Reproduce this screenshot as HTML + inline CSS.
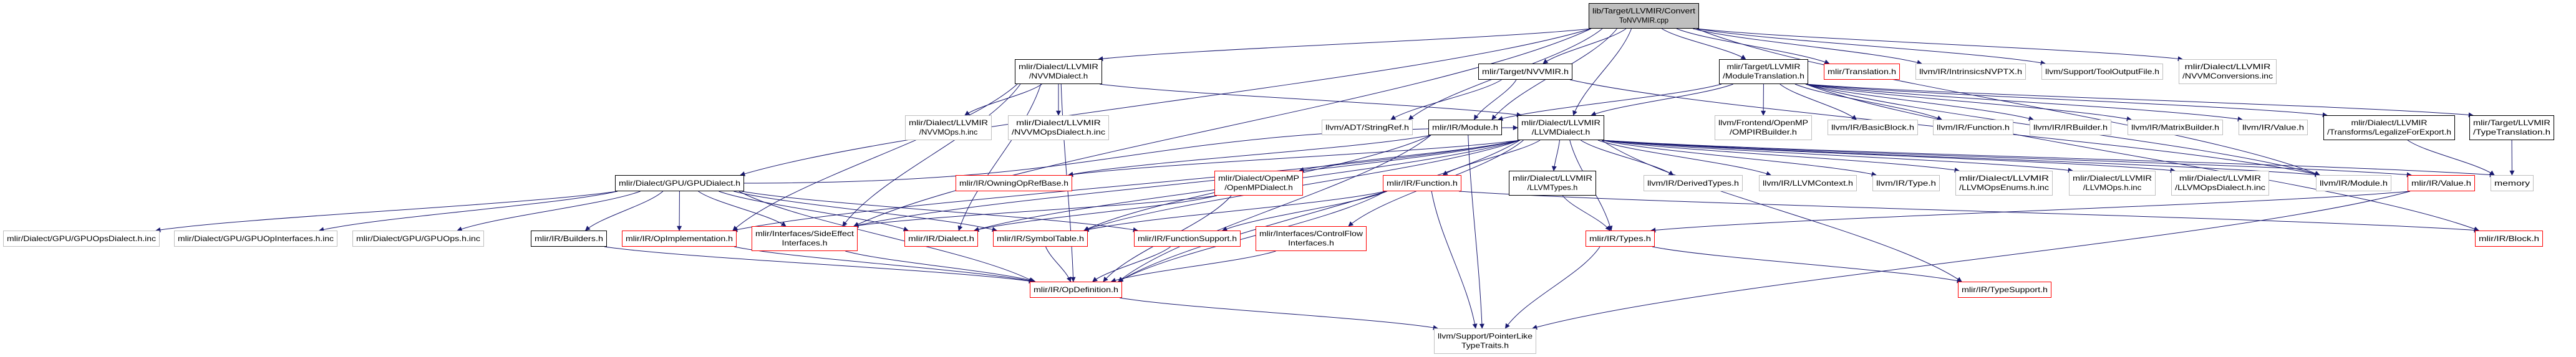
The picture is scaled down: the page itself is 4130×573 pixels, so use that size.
<!DOCTYPE html>
<html><head><meta charset="utf-8"><style>
html,body{margin:0;padding:0;background:#fff;width:4130px;height:573px;overflow:hidden}
svg{display:block}
text{font-family:"Liberation Sans",sans-serif;font-size:12px;fill:#000}
</style></head><body>
<svg id="g" width="4130" height="573" viewBox="0 0 4130 573" xmlns="http://www.w3.org/2000/svg">
<defs><marker id="ah" viewBox="0 0 10 10" refX="9" refY="5" markerWidth="9" markerHeight="8" orient="auto" markerUnits="userSpaceOnUse"><path d="M0,0 L10,5 L0,10 z" fill="#191970"/></marker></defs>
<g id="edges"></g>
<g id="nodes"></g>
</svg>
<script>
const nodeIds=["root","nvvmd","gpud","nvvmir","strref","modm","llvmd","modtr","transl","intr","tool","conv",
"nvvmops","nvvmopsd","gpuopsd","gpuopi","gpuops","builders","opimpl","side","owning","omp","func","llvmtypes","derived",
"omplb","bb","lfunc","irb","mb","lval","legal","ttrans","ctx","ltype","enums","lops","lopsd","lmod","mval","memory",
"dialect","symtab","funcsup","cflow","types","block","opdef","typesup","ptr"];
const nodeX1=[2547,1627,986,2370,2119,2290,2433,2756,2924,3071,3273,3493,1451,1616,5,279,565,851,997,1205,1532,1947,2217,2419,2635,
2749,2930,3099,3254,3411,3589,3725,3959,2820,3002,3135,3317,3481,3713,3860,3993,1450,1592,1818,2013,2542,3968,1651,3139,2299];
const nodeX2=[2724,1767,1193,2521,2265,2408,2572,2899,3046,3248,3468,3650,1590,1778,256,541,776,973,1181,1375,1719,2089,2343,2559,2794,
2905,3075,3228,3385,3564,3700,3936,4095,2977,3110,3291,3456,3638,3834,3968,4062,1568,1744,1989,2191,2653,4077,1799,3289,2463];
const nodeY1=[5,95,281,102,192,192,185,95,102,102,102,95,185,185,370,370,370,370,370,363,281,274,281,274,281,
185,192,192,192,192,192,185,185,281,281,274,274,274,281,281,281,370,370,370,363,370,370,452,452,527];
const nodeY2=[46,135,307,128,217,217,225,135,128,128,128,135,225,225,396,396,396,396,396,403,307,314,307,314,307,
225,217,217,217,217,217,225,225,307,307,314,314,314,307,307,307,396,396,396,403,396,396,478,478,568];
const nodeStyle=["root","k","k","k","g","k","k","k","r","g","g","g","g","g","g","g","g","k","r","r","r","r","r","k","g",
"g","g","g","g","g","g","k","k","g","g","g","g","g","g","r","g","r","r","r","r","r","r","r","r","g"];
const nodeLabels=[["lib/Target/LLVMIR/Convert","ToNVVMIR.cpp"],["mlir/Dialect/LLVMIR","/NVVMDialect.h"],["mlir/Dialect/GPU/GPUDialect.h"],
["mlir/Target/NVVMIR.h"],["llvm/ADT/StringRef.h"],["mlir/IR/Module.h"],["mlir/Dialect/LLVMIR","/LLVMDialect.h"],
["mlir/Target/LLVMIR","/ModuleTranslation.h"],["mlir/Translation.h"],["llvm/IR/IntrinsicsNVPTX.h"],["llvm/Support/ToolOutputFile.h"],
["mlir/Dialect/LLVMIR","/NVVMConversions.inc"],["mlir/Dialect/LLVMIR","/NVVMOps.h.inc"],["mlir/Dialect/LLVMIR","/NVVMOpsDialect.h.inc"],
["mlir/Dialect/GPU/GPUOpsDialect.h.inc"],["mlir/Dialect/GPU/GPUOpInterfaces.h.inc"],["mlir/Dialect/GPU/GPUOps.h.inc"],
["mlir/IR/Builders.h"],["mlir/IR/OpImplementation.h"],["mlir/Interfaces/SideEffect","Interfaces.h"],["mlir/IR/OwningOpRefBase.h"],
["mlir/Dialect/OpenMP","/OpenMPDialect.h"],["mlir/IR/Function.h"],["mlir/Dialect/LLVMIR","/LLVMTypes.h"],["llvm/IR/DerivedTypes.h"],
["llvm/Frontend/OpenMP","/OMPIRBuilder.h"],["llvm/IR/BasicBlock.h"],["llvm/IR/Function.h"],["llvm/IR/IRBuilder.h"],["llvm/IR/MatrixBuilder.h"],
["llvm/IR/Value.h"],["mlir/Dialect/LLVMIR","/Transforms/LegalizeForExport.h"],["mlir/Target/LLVMIR","/TypeTranslation.h"],
["llvm/IR/LLVMContext.h"],["llvm/IR/Type.h"],["mlir/Dialect/LLVMIR","/LLVMOpsEnums.h.inc"],["mlir/Dialect/LLVMIR","/LLVMOps.h.inc"],
["mlir/Dialect/LLVMIR","/LLVMOpsDialect.h.inc"],["llvm/IR/Module.h"],["mlir/IR/Value.h"],["memory"],
["mlir/IR/Dialect.h"],["mlir/IR/SymbolTable.h"],["mlir/IR/FunctionSupport.h"],["mlir/Interfaces/ControlFlow","Interfaces.h"],
["mlir/IR/Types.h"],["mlir/IR/Block.h"],["mlir/IR/OpDefinition.h"],["mlir/IR/TypeSupport.h"],["llvm/Support/PointerLike","TypeTraits.h"]];
const edgeFrom=["root","root","root","root","root","root","root","root","root","root","root","root","root",
"nvvmd","nvvmd","nvvmd","nvvmd","nvvmd","nvvmd","nvvmd",
"gpud","gpud","gpud","gpud","gpud","gpud","gpud","gpud","gpud","gpud","gpud",
"nvvmir","nvvmir","nvvmir",
"modtr","modtr","modtr","modtr","modtr","modtr","modtr","modtr","modtr","modtr","modtr","modtr",
"llvmd","llvmd","llvmd","llvmd","llvmd","llvmd","llvmd","llvmd","llvmd","llvmd","llvmd","llvmd","llvmd","llvmd","llvmd","llvmd","llvmd","llvmd","llvmd","llvmd","llvmd",
"modm","modm","modm","modm","omp","omp","omp","func","func","func","func","func","llvmtypes","types","types","mval","mval",
"legal","ttrans","cflow","funcsup","symtab","builders","opimpl","side","opdef"];
const edgeTo=["nvvmd","gpud","strref","nvvmir","modm","llvmd","modtr","transl","intr","tool","conv","side","lmod",
"nvvmops","nvvmopsd","llvmd","dialect","side","opdef","opimpl",
"gpuopsd","gpuopi","gpuops","builders","opimpl","side","dialect","symtab","funcsup","opdef","llvmd",
"strref","modm","lmod",
"modm","llvmd","omplb","bb","lfunc","irb","mb","lval","legal","ttrans","block","lmod",
"owning","omp","func","llvmtypes","derived","ctx","ltype","enums","lops","lopsd","lmod","mval","memory","dialect","symtab","side","opimpl","cflow","types","opdef","typesup",
"ptr","symtab","owning","opdef","dialect","opdef","side","funcsup","opdef","symtab","block","ptr","types","ptr","typesup","types","ptr",
"memory","memory","opdef","opdef","opdef","opdef","opdef","opdef","ptr"];

const NS="http://www.w3.org/2000/svg";
const E=document.getElementById('edges'), N=document.getElementById('nodes');
function idx(id){return nodeIds.indexOf(id);}
function cx(i){return (nodeX1[i]+nodeX2[i])/2;}
for(let k=0;k<edgeFrom.length;k++){
  const s=idx(edgeFrom[k]), t=idx(edgeTo[k]);
  let sx, sy, tx, ty, d;
  const scx=cx(s), tcx=cx(t);
  if(nodeY1[t]>nodeY2[s]){
    sy=nodeY2[s]; ty=nodeY1[t];
    const w=(nodeX2[s]-nodeX1[s])/2-4;
    sx=scx+Math.max(-w,Math.min(w,(tcx-scx)*0.15));
    const tw=(nodeX2[t]-nodeX1[t])/2-6;
    tx=tcx+Math.max(-tw,Math.min(tw,(scx-tcx)*0.15));
    const dy=ty-sy, dx=tx-sx;
    d=`M${sx},${sy} C${sx+dx*0.2},${sy+dy*0.35} ${tx-dx*0.2},${ty-dy*0.35} ${tx},${ty}`;
  } else {
    sy=(nodeY1[s]+nodeY2[s])/2; ty=(nodeY1[t]+nodeY2[t])/2;
    sx = tcx>scx? nodeX2[s]: nodeX1[s];
    tx = tcx>scx? nodeX1[t]: nodeX2[t];
    d=`M${sx},${sy} C${(sx+tx)/2},${sy} ${(sx+tx)/2},${ty} ${tx},${ty}`;
  }
  const p=document.createElementNS(NS,'path');
  p.setAttribute('d',d);p.setAttribute('fill','none');p.setAttribute('stroke','#191970');
  p.setAttribute('stroke-width','1');p.setAttribute('marker-end','url(#ah)');
  
  
  E.appendChild(p);
}
const col={k:'#000000',r:'#ff0000',g:'#bfbfbf',root:'#000000'};
for(let i=0;i<nodeIds.length;i++){
  const g=document.createElementNS(NS,'g');
  
  
  const r=document.createElementNS(NS,'rect');
  const x=nodeX1[i], y=nodeY1[i], w=nodeX2[i]-nodeX1[i], h=nodeY2[i]-nodeY1[i];
  r.setAttribute('x',x+0.5);r.setAttribute('y',y+0.5);r.setAttribute('width',w-1);r.setAttribute('height',h-1);
  r.setAttribute('fill',nodeStyle[i]==='root'?'#bfbfbf':'#ffffff');
  r.setAttribute('stroke',col[nodeStyle[i]]);r.setAttribute('stroke-width','1');
  g.appendChild(r);
  const L=nodeLabels[i];
  for(let j=0;j<L.length;j++){
    const t=document.createElementNS(NS,'text');
    const ty = L.length===1 ? y+h/2+4 : y+h/2 + (j===0?-4:11);
    t.setAttribute('y',ty);
    if(L.length===1 || j===0 && L[0].length>=L[1].length || j===1 && L[1].length>=L[0].length){
      t.setAttribute('x',x+6);
      t.setAttribute('textLength',w-12);t.setAttribute('lengthAdjust','spacingAndGlyphs');
    } else {
      t.setAttribute('x',x+w/2);t.setAttribute('text-anchor','middle');
      const o=L[1-j].length, frac=L[j].length/o;
      t.setAttribute('textLength',(w-12)*frac);t.setAttribute('lengthAdjust','spacingAndGlyphs');
    }
    t.textContent=L[j];
    
    
    g.appendChild(t);
  }
  N.appendChild(g);
}
</script>
</body></html>
